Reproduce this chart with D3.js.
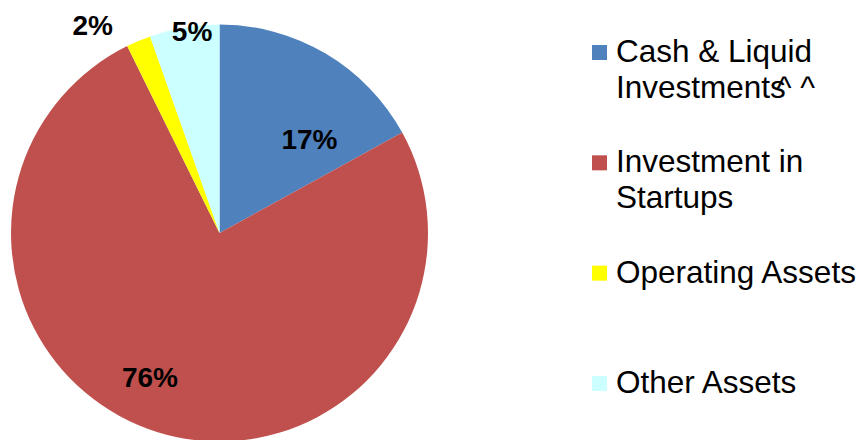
<!DOCTYPE html>
<html>
<head>
<meta charset="utf-8">
<script src="https://cdn.jsdelivr.net/npm/d3@7"></script>
<style>
  body { margin: 0; background: #fff; }
  svg { display: block; font-family: Arial, "Liberation Sans", sans-serif; }
</style>
</head>
<body>
<svg id="chart" width="866" height="440"></svg>
<script>
// values (percent of total)
var categories = ["Cash & Liquid Investments^ ^", "Investment in Startups", "Operating Assets", "Other Assets"];
var legendLines = [["Cash & Liquid", "Investments"], ["Investment in", "Startups"], ["Operating Assets"], ["Other Assets"]];
var shares = [17.0, 75.7, 1.9, 5.4];
var colors = ["#4F81BD", "#C0504D", "#FFFF00", "#CCFFFF"];

// label placement: angle shift (deg) from slice middle, radius in px
var labelShift = [13, 8.3, -8.5, 2];
var labelRadius = [130.5, 160, 243.7, 204];

var width = 866,
    height = 440,
    cx = 219.5,
    cy = 233,
    radius = 208.5;

var svg = d3.select("svg#chart");

var pie = d3.pie().sort(null).value(function(d) { return d; }).startAngle(0).endAngle(2 * Math.PI);
var arcs = pie(shares);

var arc = d3.arc().innerRadius(0).outerRadius(radius);

var g = svg.append("g").attr("transform", "translate(" + cx + "," + cy + ")");

g.selectAll("path.slice")
  .data(arcs)
  .enter().append("path")
    .attr("class", "slice")
    .attr("d", arc)
    .attr("fill", function(d, i) { return colors[i]; });

g.selectAll("text.pct")
  .data(arcs)
  .enter().append("text")
    .attr("class", "pct")
    .attr("transform", function(d, i) {
      var a = (d.startAngle + d.endAngle) / 2 + labelShift[i] * Math.PI / 180;
      var r = labelRadius[i];
      return "translate(" + (Math.sin(a) * r) + "," + (-Math.cos(a) * r) + ")";
    })
    .attr("text-anchor", "middle")
    .attr("dy", "0.36em")
    .style("font-size", "28px")
    .style("font-weight", "bold")
    .attr("fill", "#000")
    .text(function(d) { return Math.round(d.data) + "%"; });

// legend
var y = d3.scalePoint().domain(d3.range(categories.length)).range([62, 393]);

var leg = svg.selectAll("g.legend")
  .data(categories)
  .enter().append("g")
    .attr("class", "legend")
    .attr("transform", function(d, i) { return "translate(0," + y(i) + ")"; });

leg.append("rect")
  .attr("x", 592)
  .attr("y", -17)
  .attr("width", 15)
  .attr("height", 15)
  .attr("fill", function(d, i) { return colors[i]; });

leg.each(function(d, i) {
  var t = d3.select(this).append("text")
    .attr("x", 616)
    .attr("y", 0)
    .style("font-size", "31.5px")
    .attr("fill", "#000");
  legendLines[i].forEach(function(line, j) {
    t.append("tspan")
      .attr("x", 616)
      .attr("dy", j === 0 ? 0 : 36)
      .text(line);
  });
  if (i === 0) {
    // the stray carets overlapping the last letter
    t.append("tspan").attr("dx", -9).text("^ ^");
  }
});
</script>
</body>
</html>
